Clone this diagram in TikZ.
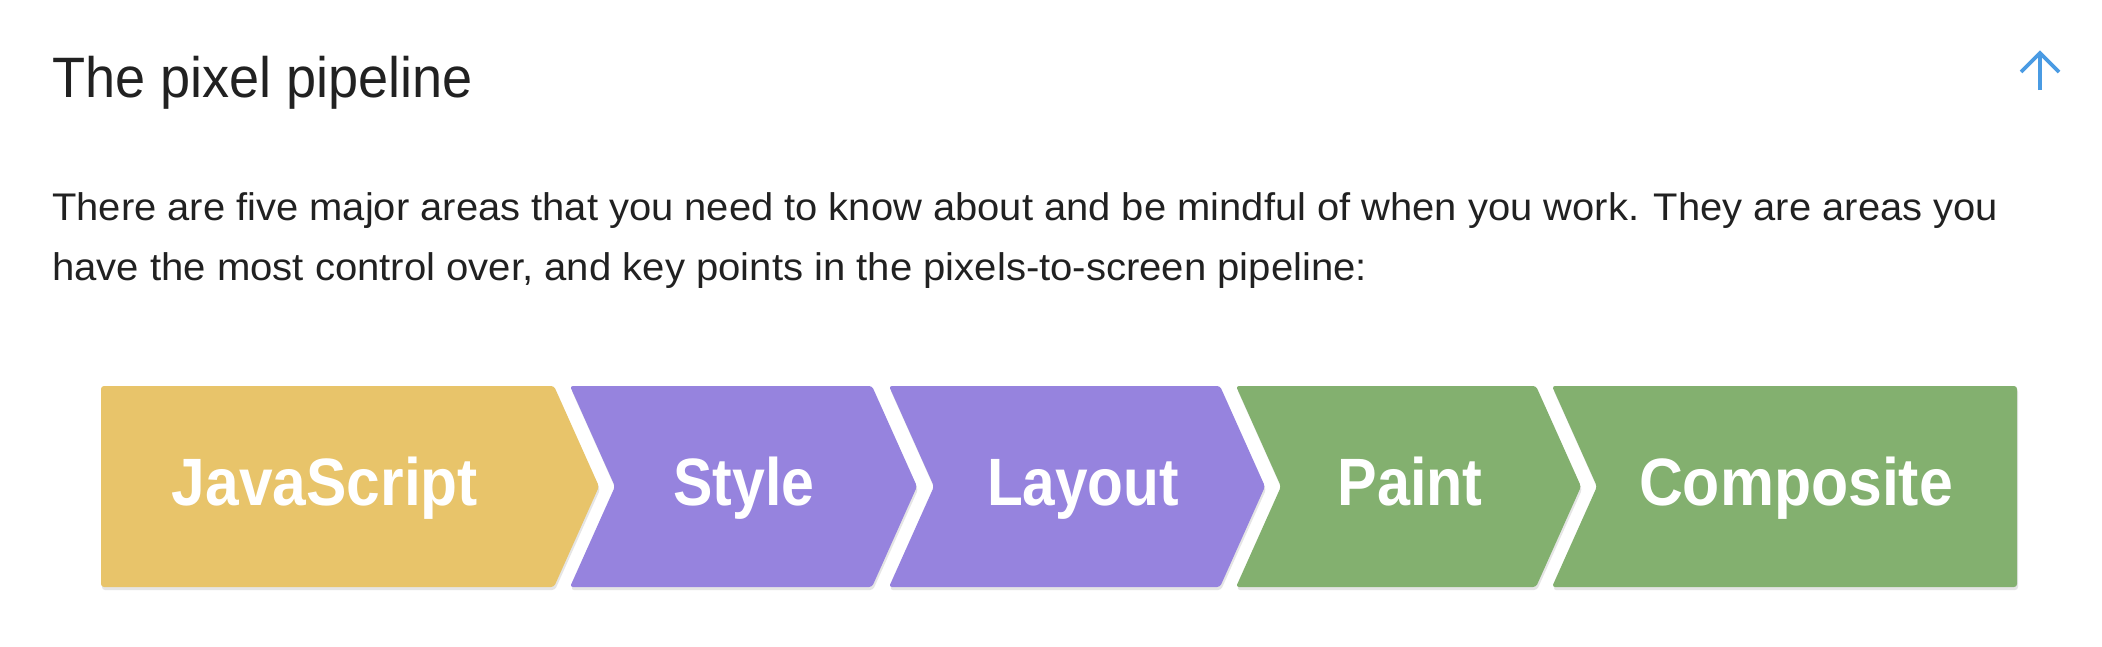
\documentclass[tikz,border=0pt]{standalone}
\usepackage{fontspec}
\usepackage{graphicx}
\setmainfont{Liberation Sans}
\definecolor{jsyellow}{HTML}{E8C46A}
\definecolor{stpurple}{HTML}{9683DE}
\definecolor{pgreen}{HTML}{83B06F}
\definecolor{inktext}{HTML}{212121}
\definecolor{iconblue}{HTML}{4A9BE3}
\newcommand{\fitw}[2]{\resizebox{#1}{\height}{#2}}
\tikzset{
  chevfill/.style={fill=#1, draw=none, rounded corners=3pt},
  chevshadow/.style={fill=black!10, draw=none, rounded corners=3pt},
  chevlabel/.style={anchor=base, inner sep=0pt, text=white, font=\fontsize{67}{70}\selectfont\bfseries},
  bodytext/.style={anchor=base west, inner sep=0pt, text=inktext, font=\fontsize{38.5}{46}\selectfont},
  titletext/.style={anchor=base west, inner sep=0pt, text=inktext, font=\fontsize{57}{64}\selectfont},
}
\begin{document}
\begin{tikzpicture}[x=1pt, y=-1pt]
\fill[white] (0,0) rectangle (2102,646);
\useasboundingbox (0,0) rectangle (2102,646);

% header
\node[titletext] (title) at (52,97) {\fitw{421pt}{The pixel pipeline}};
\draw[iconblue, line width=3.6pt] (2040,90) -- (2040,54);
\draw[iconblue, line width=3.6pt, line join=miter] (2021,72) -- (2040,53) -- (2059,72);

\node[bodytext] (line1) at (52,220) {\fitw{1946pt}{There are five major areas that you need to know about and be mindful of when you work. They are areas you}};
\node[bodytext] (line2) at (52,280) {\fitw{1315pt}{have the most control over, and key points in the pixels-to-screen pipeline:}};

% shadows
\begin{scope}[shift={(1,3)}]
\fill[chevshadow] (101,386) -- (554,386) -- (599,486.5) -- (554,587) -- (101,587) -- cycle;
\fill[chevshadow] (570,386) -- (872,386) -- (917,486.5) -- (872,587) -- (570,587) -- (615,486.5) -- cycle;
\fill[chevshadow] (889,386) -- (1220,386) -- (1265,486.5) -- (1220,587) -- (889,587) -- (934,486.5) -- cycle;
\fill[chevshadow] (1236,386) -- (1536,386) -- (1581,486.5) -- (1536,587) -- (1236,587) -- (1281,486.5) -- cycle;
\fill[chevshadow] (1552,386) -- (2017,386) -- (2017,587) -- (1552,587) -- (1597,486.5) -- cycle;
\end{scope}

% chevrons
\fill[chevfill=jsyellow] (101,386) -- (554,386) -- (599,486.5) -- (554,587) -- (101,587) -- cycle;
\fill[chevfill=stpurple] (570,386) -- (872,386) -- (917,486.5) -- (872,587) -- (570,587) -- (615,486.5) -- cycle;
\fill[chevfill=stpurple] (889,386) -- (1220,386) -- (1265,486.5) -- (1220,587) -- (889,587) -- (934,486.5) -- cycle;
\fill[chevfill=pgreen] (1236,386) -- (1536,386) -- (1581,486.5) -- (1536,587) -- (1236,587) -- (1281,486.5) -- cycle;
\fill[chevfill=pgreen] (1552,386) -- (2017,386) -- (2017,587) -- (1552,587) -- (1597,486.5) -- cycle;

\node[chevlabel] (js) at (325,505) {\fitw{306pt}{JavaScript}};
\node[chevlabel] (style) at (744,505) {\fitw{141pt}{Style}};
\node[chevlabel] (layout) at (1083,505) {\fitw{192pt}{Layout}};
\node[chevlabel] (paint) at (1410,505) {\fitw{145pt}{Paint}};
\node[chevlabel] (composite) at (1796,505) {\fitw{314pt}{Composite}};
\end{tikzpicture}
\end{document}
